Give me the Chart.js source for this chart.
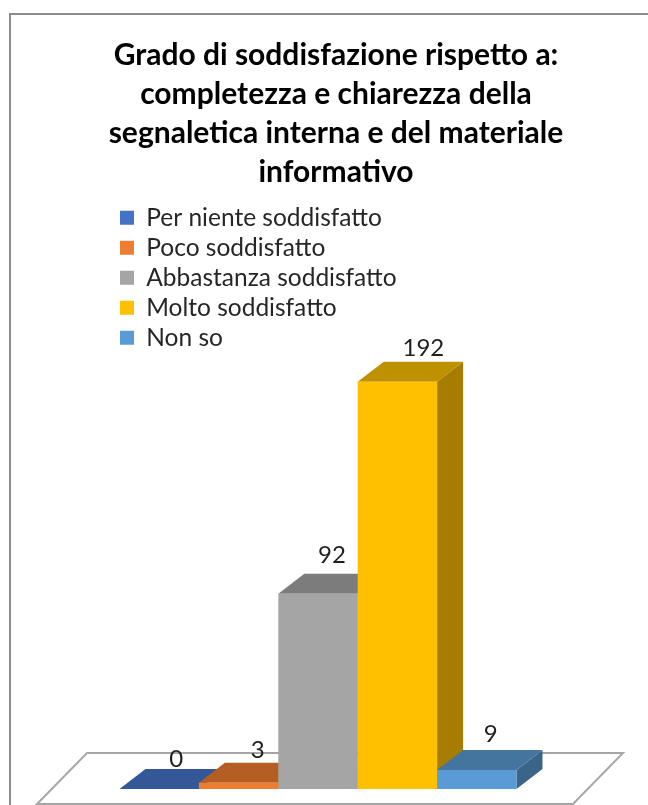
<!DOCTYPE html>
<html lang="it">
<head>
<meta charset="UTF-8">
<title>Grado di soddisfazione</title>
<script src="https://cdn.jsdelivr.net/npm/chart.js"></script>
<style>
    html, body { margin: 0; padding: 0; background: #ffffff; overflow: hidden; }
    canvas { display: block; }
</style>
</head>
<body>
<canvas id="grafico" width="648" height="805"></canvas>
<script>
    // dati
    var titolo = [
        'Grado di soddisfazione rispetto a:',
        'completezza e chiarezza della',
        'segnaletica interna e del materiale',
        'informativo'
    ];
    var categorie = ['Per niente soddisfatto', 'Poco soddisfatto', 'Abbastanza soddisfatto', 'Molto soddisfatto', 'Non so'];
    var valori = [0, 3, 92, 192, 9];

    // colori delle facce
    var coloriFronte = ['#4472C4', '#ED7D31', '#A5A5A5', '#FFC000', '#5B9BD5'];
    var coloriSopra = ['#345798', '#B55E24', '#7C7C7C', '#BF9000', '#44759F'];
    var coloriLato = ['#2C4A80', '#9A4F1E', '#6A6A6A', '#A67D00', '#3A6587'];

    // spostamento delle etichette rispetto alla barra
    var etichettaDx = [17, 19, 14, 26, 14];
    var etichettaDy = [10, 12, 19, 13, 16];

    var profonditaX = 26;
    var profonditaY = 20;

    var finto3d = {
        id: 'finto3d',
        beforeDraw(chart) {
            // cornice
            const ctx = chart.ctx;
            ctx.save();
            ctx.strokeStyle = '#8c8c8c';
            ctx.lineWidth = 2;
            ctx.strokeRect(10, 14, 800, 1000);
            ctx.restore();
        },
        afterLayout(chart) {
            // il titolo e la legenda non stanno dove li mette chart.js
            chart.titleBlock.left += 18;
            chart.titleBlock.right += 18;
            const l = chart.legend;
            const p = l.options.labels.padding;
            l.left = 120 - p;
            l.right = l.left + l.width;
            l.top = 200;
            l.bottom = l.top + l.height;
        },
        beforeDatasetsDraw(chart) {
            const ctx = chart.ctx;
            const a = chart.chartArea;
            ctx.save();

            // pavimento
            ctx.strokeStyle = '#a6a6a6';
            ctx.lineWidth = 2;
            ctx.beginPath();
            ctx.moveTo(a.left - 13, a.bottom + 15);
            ctx.lineTo(a.right - 13, a.bottom + 15);
            ctx.lineTo(a.right + 37, a.bottom - 36);
            ctx.lineTo(a.left + 37, a.bottom - 36);
            ctx.closePath();
            ctx.stroke();

            // lati e facce superiori da sinistra a destra, i fronti li disegna chart.js sopra
            for (let i = 0; i < valori.length; i++) {
                const bar = chart.getDatasetMeta(i).data[0];
                const x1 = bar.x - bar.width / 2;
                const x2 = bar.x + bar.width / 2;
                const sopra = bar.y;
                const base = bar.base;

                ctx.fillStyle = coloriLato[i];
                ctx.beginPath();
                ctx.moveTo(x2, sopra);
                ctx.lineTo(x2 + profonditaX, sopra - profonditaY);
                ctx.lineTo(x2 + profonditaX, base - profonditaY);
                ctx.lineTo(x2, base);
                ctx.closePath();
                ctx.fill();

                ctx.fillStyle = coloriSopra[i];
                ctx.beginPath();
                ctx.moveTo(x1, sopra);
                ctx.lineTo(x1 + profonditaX, sopra - profonditaY);
                ctx.lineTo(x2 + profonditaX, sopra - profonditaY);
                ctx.lineTo(x2, sopra);
                ctx.closePath();
                ctx.fill();
            }
            ctx.restore();
        },
        afterDatasetsDraw(chart) {
            const ctx = chart.ctx;
            ctx.save();
            ctx.fillStyle = '#1f1f1f';
            ctx.font = '24px Lato';
            ctx.textAlign = 'center';
            ctx.textBaseline = 'middle';
            valori.forEach(function (v, i) {
                const bar = chart.getDatasetMeta(i).data[0];
                ctx.fillText(v, bar.x + etichettaDx[i], bar.y - profonditaY - etichettaDy[i]);
            });
            ctx.restore();
        }
    };

    new Chart(document.getElementById('grafico'), {
        type: 'bar',
        data: {
            labels: [''],
            datasets: categorie.map(function (nome, i) {
                return {
                    label: nome,
                    data: [valori[i]],
                    backgroundColor: coloriFronte[i],
                    borderWidth: 0,
                    barPercentage: 1,
                    categoryPercentage: 0.7407
                };
            })
        },
        options: {
            responsive: false,
            animation: false,
            events: [],
            layout: { padding: { top: 36, left: 50, right: 62, bottom: 16 } },
            scales: {
                x: { display: false },
                y: { display: false, min: 0, max: 280 }
            },
            plugins: {
                title: {
                    display: true,
                    text: titolo,
                    color: '#000000',
                    font: { family: 'Lato', size: 30, weight: 'bold', lineHeight: 39 / 30 },
                    padding: { top: 0, bottom: 3 }
                },
                legend: {
                    position: 'chartArea',
                    align: 'start',
                    labels: {
                        color: '#262626',
                        font: { family: 'Lato', size: 24.5 },
                        boxWidth: 14,
                        boxHeight: 14,
                        padding: 5.5
                    }
                },
                tooltip: { enabled: false }
            }
        },
        plugins: [finto3d]
    });
</script>
</body>
</html>
